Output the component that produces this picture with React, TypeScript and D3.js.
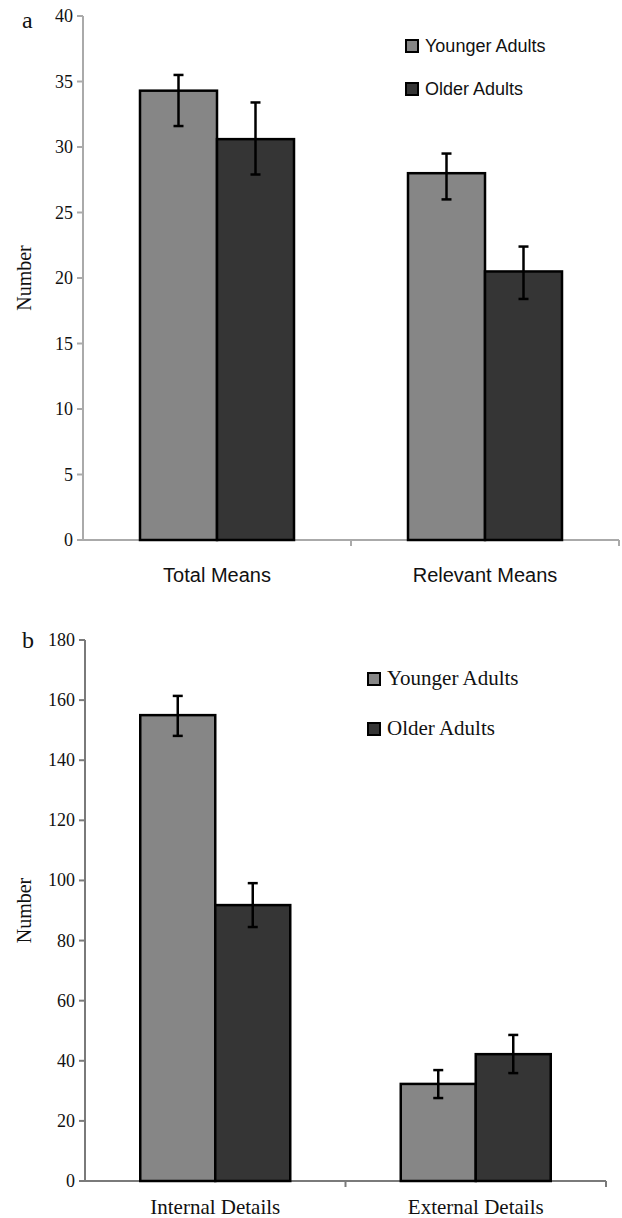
import React, { useEffect, useRef } from "react";
import * as d3 from "d3";

// panel a
const catsA = ["Total Means", "Relevant Means"];
const youngA = [34.3, 28.0];
const youngA_hi = [35.5, 29.5];
const youngA_lo = [31.6, 26.0];
const oldA = [30.6, 20.5];
const oldA_hi = [33.4, 22.4];
const oldA_lo = [27.9, 18.4];
const ticksA = [0, 5, 10, 15, 20, 25, 30, 35, 40];

// panel b
const catsB = ["Internal Details", "External Details"];
const youngB = [155, 32.3];
const youngB_hi = [161.4, 36.9];
const youngB_lo = [148.1, 27.6];
const oldB = [91.8, 42.2];
const oldB_hi = [99.1, 48.6];
const oldB_lo = [84.5, 35.9];
const ticksB = [0, 20, 40, 60, 80, 100, 120, 140, 160, 180];

const series = ["Younger Adults", "Older Adults"];
const colors = ["#868686", "#353535"];

const serif = "'Liberation Serif', 'DejaVu Serif', serif";
const sans = "'Liberation Sans', Arial, sans-serif";

function Panel(props) {
  const ref = useRef(null);
  const p = props;

  useEffect(() => {
    const svg = d3.select(ref.current);
    svg.selectAll("*").remove();

    const y = d3.scaleLinear().domain([0, p.max]).range([p.y0, p.y1]);
    const x = d3.scaleBand().domain(p.cats).range([p.x0, p.x1]);
    const bw = x.bandwidth();
    const pad = (bw - p.groupW) / 2;
    const xs = d3.scaleBand().domain(series).range([pad, bw - pad]);

    // axes
    svg.append("line").attr("x1", p.x0).attr("x2", p.x0)
      .attr("y1", y(p.max)).attr("y2", y(0))
      .attr("stroke", p.axisColor).attr("stroke-width", 2);
    svg.append("line").attr("x1", p.x0 - 6).attr("x2", p.x1)
      .attr("y1", y(0)).attr("y2", y(0))
      .attr("stroke", p.axisColor).attr("stroke-width", 2);

    const t = svg.append("g");
    p.ticks.forEach(v => {
      t.append("line").attr("x1", p.x0 - 6).attr("x2", p.x0)
        .attr("y1", y(v)).attr("y2", y(v))
        .attr("stroke", p.axisColor).attr("stroke-width", 2);
      t.append("text").attr("x", p.x0 - 10).attr("y", y(v) + 6)
        .attr("text-anchor", "end").attr("font-family", serif)
        .attr("font-size", 18).attr("fill", "#111").text(v);
    });
    // x ticks at category boundaries
    [p.x0 + bw, p.x1].forEach(xx => {
      svg.append("line").attr("x1", xx).attr("x2", xx)
        .attr("y1", y(0)).attr("y2", y(0) + 6)
        .attr("stroke", p.axisColor).attr("stroke-width", 2);
    });

    p.cats.forEach((c, i) => {
      const vals = [p.young[i], p.old[i]];
      const his = [p.youngHi[i], p.oldHi[i]];
      const los = [p.youngLo[i], p.oldLo[i]];
      series.forEach((s, j) => {
        const bx = x(c) + xs(s);
        svg.append("rect").attr("x", bx).attr("y", y(vals[j]))
          .attr("width", xs.bandwidth()).attr("height", y(0) - y(vals[j]))
          .attr("fill", colors[j]).attr("stroke", "#000").attr("stroke-width", 2.5);
        const cx = bx + xs.bandwidth() / 2;
        svg.append("line").attr("x1", cx).attr("x2", cx)
          .attr("y1", y(his[j])).attr("y2", y(los[j]))
          .attr("stroke", "#000").attr("stroke-width", 2.5);
        [his[j], los[j]].forEach(e => {
          svg.append("line").attr("x1", cx - 5).attr("x2", cx + 5)
            .attr("y1", y(e)).attr("y2", y(e))
            .attr("stroke", "#000").attr("stroke-width", 2.5);
        });
      });
      svg.append("text").attr("x", x(c) + bw / 2).attr("y", p.labelY)
        .attr("text-anchor", "middle").attr("font-family", p.font)
        .attr("font-size", p.labelSize).attr("fill", "#111").text(c);
    });

    // y label
    svg.append("text")
      .attr("transform", `translate(31,${(y(0) + y(p.max)) / 2}) rotate(-90)`)
      .attr("text-anchor", "middle").attr("font-family", serif)
      .attr("font-size", 20).attr("fill", "#111").text("Number");

    // panel letter
    svg.append("text").attr("x", 22).attr("y", y(p.max) + p.letterDy)
      .attr("font-family", serif).attr("font-size", 24).attr("fill", "#111")
      .text(p.letter);

    // legend
    series.forEach((s, j) => {
      const ly = p.legY + j * p.legGap;
      svg.append("rect").attr("x", p.legX).attr("y", ly - 12)
        .attr("width", 12).attr("height", 12)
        .attr("fill", colors[j]).attr("stroke", "#000").attr("stroke-width", 2);
      svg.append("text").attr("x", p.legX + 19).attr("y", ly)
        .attr("font-family", p.font).attr("font-size", p.legSize).attr("fill", "#111")
        .text(s);
    });
  }, []);

  return <g ref={ref} />;
}

export default function App() {
  return (
    <svg width={622} height={1218}
      style={{ display: "block", position: "absolute", left: 0, top: 0, background: "#fff" }}>
      <Panel letter="a" letterDy={12} cats={catsA} young={youngA} youngHi={youngA_hi}
        youngLo={youngA_lo} old={oldA} oldHi={oldA_hi} oldLo={oldA_lo}
        ticks={ticksA} max={40} y0={540} y1={16} x0={83} x1={619} groupW={154}
        axisColor="#aaaaaa" labelY={582} labelSize={20} font={sans}
        legX={406} legY={52} legGap={43} legSize={18} />
      <Panel letter="b" letterDy={8} cats={catsB} young={youngB} youngHi={youngB_hi}
        youngLo={youngB_lo} old={oldB} oldHi={oldB_hi} oldLo={oldB_lo}
        ticks={ticksB} max={180} y0={1181} y1={640} x0={85} x1={606} groupW={150}
        axisColor="#7a7a7a" labelY={1214} labelSize={21} font={serif}
        legX={368} legY={685} legGap={50} legSize={21} />
    </svg>
  );
}
